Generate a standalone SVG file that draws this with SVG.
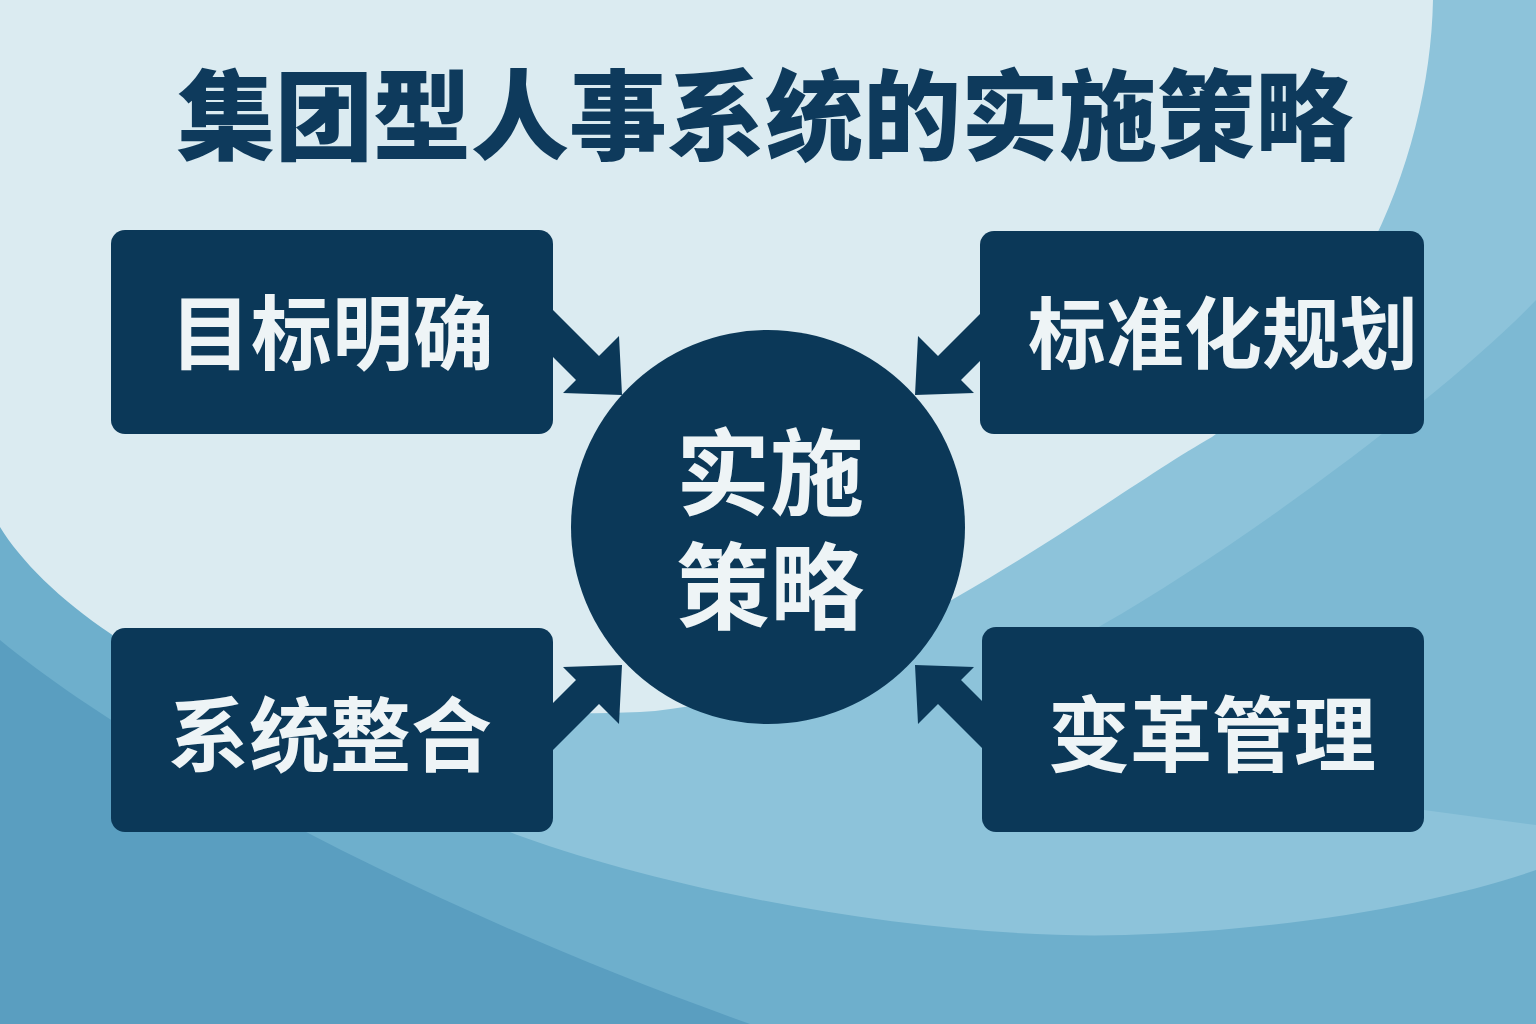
<svg xmlns="http://www.w3.org/2000/svg" width="1536" height="1024" viewBox="0 0 1536 1024">
<style>
.box{fill:#0b3858}
.arrow{fill:#0b3858}
.lbl{font-family:"Noto Sans CJK SC","Noto Sans",sans-serif;font-weight:700;fill:#eef4f6;text-anchor:middle}
.title{font-family:"Noto Sans CJK SC","Noto Sans",sans-serif;font-weight:900;fill:#0e3a5c;text-anchor:middle}
</style>
<g id="background">
<rect width="1536" height="1024" fill="#5a9ec0"/>
<path d="M0,640 C120,740 400,900 750,1024 L1536,1024 L1536,0 L0,0 Z" fill="#6eafcc"/>
<path d="M300,700 C400,780 450,810 523,837 C700,900 950,940 1125,935 C1300,930 1450,900 1536,870 L1536,0 L300,0 Z" fill="#8dc3da"/>
<path d="M1536,300 C1450,390 1250,540 1102,625 C1000,690 1100,780 1424,810 L1536,825 Z" fill="#7db9d3"/>
<path d="M0,0 L1433,0 C1430,150 1360,330 1212,437 C1100,500 850,700 640,712 C450,720 180,690 111,634 C60,600 20,560 0,527 Z" fill="#dbebf1"/>
</g>
<text class="title" x="765" y="152" font-size="98">集团型人事系统的实施策略</text>
<g id="connectors">
<polygon class="arrow" points="540,297 599,356 619,336 622,395 563,393 576,380 540,344"/>
<polygon class="arrow" points="997,297 938,356 918,336 915,395 974,393 961,380 997,344"/>
<polygon class="arrow" points="540,763 599,704 619,724 622,665 563,667 576,680 540,716"/>
<polygon class="arrow" points="997,763 938,704 918,724 915,665 974,667 961,680 997,716"/>
</g>
<g id="node-goal">
<rect class="box" x="111" y="230" width="442" height="204" rx="14"/>
<text class="lbl" x="332" y="363" font-size="81">目标明确</text>
</g>
<g id="node-standard">
<rect class="box" x="980" y="231" width="444" height="203" rx="14"/>
<text class="lbl" x="1223" y="363" font-size="78">标准化规划</text>
</g>
<g id="node-integration">
<rect class="box" x="111" y="628" width="442" height="204" rx="14"/>
<text class="lbl" x="330" y="765" font-size="81">系统整合</text>
</g>
<g id="node-change">
<rect class="box" x="982" y="627" width="442" height="205" rx="14"/>
<text class="lbl" x="1212" y="765" font-size="82">变革管理</text>
</g>
<g id="node-center">
<circle class="box" cx="768" cy="527" r="197"/>
<text class="lbl" font-size="94"><tspan x="770" y="508">实施</tspan><tspan x="770" y="622">策略</tspan></text>
</g>
</svg>
